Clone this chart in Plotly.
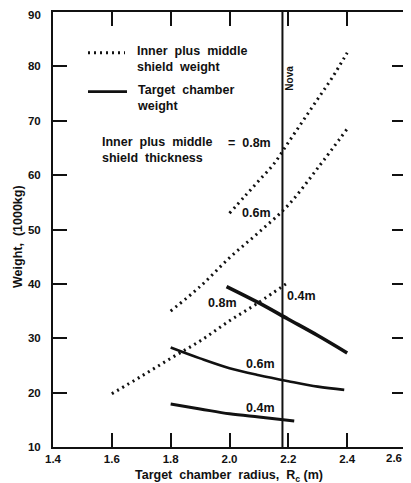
import plotly.graph_objects as go

# ---- data ----
shield_08_r = [2.0, 2.05, 2.1, 2.15, 2.2, 2.25, 2.3, 2.35, 2.4]
shield_08_w = [53.0, 56.0, 59.0, 62.0, 66.0, 70.0, 74.0, 78.0, 82.5]
shield_06_r = [1.8, 1.9, 2.0, 2.1, 2.2, 2.3, 2.4]
shield_06_w = [35.0, 39.5, 44.8, 49.5, 54.5, 61.3, 68.5]
shield_04_r = [1.6, 1.7, 1.8, 1.9, 2.0, 2.1, 2.2]
shield_04_w = [19.8, 23.0, 26.3, 29.5, 33.2, 36.6, 40.3]

chamber_08_r = [1.99, 2.1, 2.2, 2.3, 2.4]
chamber_08_w = [39.5, 36.5, 33.5, 30.5, 27.3]
chamber_06_r = [1.8, 1.9, 2.0, 2.1, 2.2, 2.3, 2.39]
chamber_06_w = [28.3, 26.3, 24.5, 23.2, 22.1, 21.1, 20.5]
chamber_04_r = [1.8, 1.9, 2.0, 2.1, 2.22]
chamber_04_w = [17.9, 17.0, 16.1, 15.5, 14.8]

nova_r = 2.18

x_tickvals = [1.4, 1.6, 1.8, 2.0, 2.2, 2.4, 2.6]
x_ticktext = ["1.4", "1.6", "1.8", "2.0", "2.2", "2.4", "2.6"]
y_tickvals = [10, 20, 30, 40, 50, 60, 70, 80, 90]
y_ticktext = ["10", "20", "30", "40", "50", "60", "70", "80", "90"]

FONT = "Liberation Sans"
BLACK = "#111111"

fig = go.Figure()

dot_style = dict(color=BLACK, width=3, dash="2px,4px")
for r, w in [(shield_08_r, shield_08_w), (shield_06_r, shield_06_w), (shield_04_r, shield_04_w)]:
    fig.add_trace(go.Scatter(x=r, y=w, mode="lines", line=dict(dot_style, shape="spline"),
                             showlegend=False, hoverinfo="skip"))

for r, w, lw in [(chamber_08_r, chamber_08_w, 3.6), (chamber_06_r, chamber_06_w, 2.6),
                 (chamber_04_r, chamber_04_w, 3.0)]:
    fig.add_trace(go.Scatter(x=r, y=w, mode="lines", line=dict(color=BLACK, width=lw, shape="spline"),
                             showlegend=False, hoverinfo="skip"))

# Nova line
fig.add_shape(type="line", xref="x", yref="paper", x0=nova_r, x1=nova_r, y0=0, y1=1,
              line=dict(color=BLACK, width=2))

# page-pixel -> paper helpers (plot area spans page x 53..406, y 10..447;
# the page body keeps its default 8px margin, so the figure starts at page (8, 8))
def px(xp):
    return (xp - 53) / 353.0

def py(yp):
    return 1 - (yp - 10) / 437.0

fig.add_shape(type="line", xref="paper", yref="paper", x0=px(88), x1=px(125), y0=py(51), y1=py(51),
              line=dict(color=BLACK, width=3, dash="2px,4px"))
fig.add_shape(type="line", xref="paper", yref="paper", x0=px(88), x1=px(127), y0=py(90), y1=py(90),
              line=dict(color=BLACK, width=2.6))

def ann(text, x, y, xanchor="center", yanchor="middle", angle=0, size=11):
    fig.add_annotation(text=text, x=x, y=y, xref="paper", yref="paper", xanchor=xanchor, yanchor=yanchor,
                       showarrow=False, textangle=angle, align="left",
                       font=dict(family=FONT, size=size, color=BLACK, weight="bold"))

ann("Inner  plus  middle<br>shield  weight", px(135), py(57), xanchor="left", size=12.5)
ann("Target  chamber<br>weight", px(135), py(96), xanchor="left", size=12.5)
ann("Inner  plus  middle<br>shield  thickness", px(100), py(149), xanchor="left", size=12.5)
ann("=  0.8m", px(249), py(141.5), size=12.5)
ann("0.6m", px(256), py(212), size=12.5)
ann("0.8m", px(222), py(302), size=12.5)
ann("0.4m", px(301), py(295), size=12.5)
ann("0.6m", px(260), py(364), size=12.5)
ann("0.4m", px(260), py(408), size=12.5)
ann("Nova", px(290), py(77), angle=-90, size=10)
ann("Weight,  (1000kg)", px(18), py(236), angle=-90, size=12.5)
ann("Target  chamber  radius,  R<sub>c</sub> (m)", px(229), py(476), size=12.5)

# edge tick labels that would fall past the figure's edge: pinned inside it
ann(y_ticktext[-1], px(43), py(13.5), xanchor="right", yanchor="middle", size=11.5)
ann(x_ticktext[-1], px(404), py(450), xanchor="right", yanchor="top", size=11.5)

fig.update_xaxes(range=[1.4, 2.6], tickvals=x_tickvals[:-1], ticktext=x_ticktext[:-1],
                 ticks="inside", ticklen=14, tickwidth=2, tickcolor=BLACK,
                 showline=True, linecolor=BLACK, linewidth=2, mirror="ticks",
                 showgrid=False, zeroline=False,
                 tickfont=dict(family=FONT, size=11.5, color=BLACK, weight="bold"))
fig.update_yaxes(range=[10, 90], tickvals=y_tickvals[:-1], ticktext=y_ticktext[:-1],
                 ticks="inside", ticklen=14, tickwidth=2, tickcolor=BLACK,
                 showline=True, linecolor=BLACK, linewidth=2, mirror="ticks",
                 showgrid=False, zeroline=False, ticklabelstandoff=8,
                 tickfont=dict(family=FONT, size=11.5, color=BLACK, weight="bold"))

fig.update_layout(width=403, height=475, margin=dict(l=45, r=5, t=2, b=36),
                  plot_bgcolor="white", paper_bgcolor="white", showlegend=False)

fig.write_html("out.html", config={"displayModeBar": False})
